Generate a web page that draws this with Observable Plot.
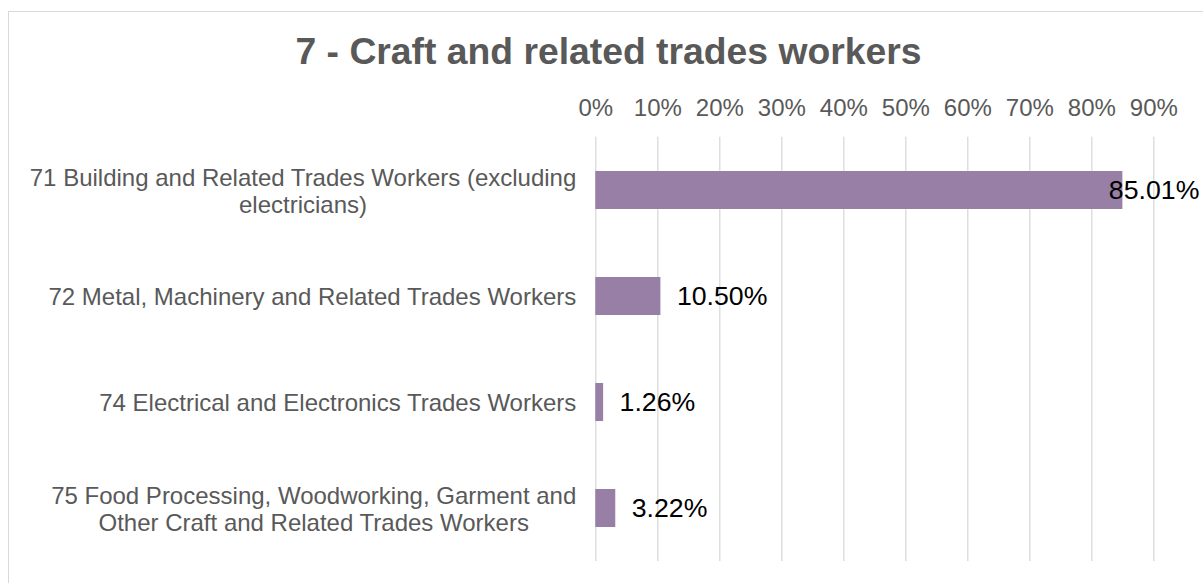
<!DOCTYPE html>
<html><head><meta charset="utf-8">
<script src="https://cdn.jsdelivr.net/npm/d3@7"></script>
<script src="https://cdn.jsdelivr.net/npm/@observablehq/plot@0.6"></script>
<style>
html,body{margin:0;padding:0;width:1203px;height:583px;overflow:hidden;background:#fff;font-family:"Liberation Sans",Arial,sans-serif;}
#chart{position:absolute;left:0;top:0;}
#frame{position:absolute;left:8px;top:11px;width:1400px;height:800px;border:1.5px solid #d9d9d9;box-sizing:border-box;}
#title{position:absolute;left:0;top:33px;width:1217px;text-align:center;font-size:37.3px;line-height:1;font-weight:bold;color:#595959;}
</style></head><body>
<div id="chart"></div>
<div id="frame"></div>
<div id="title">7 - Craft and related trades workers</div>
<script>
const categories = [
  "71 Building and Related Trades Workers (excluding\nelectricians)",
  "72 Metal, Machinery and Related Trades Workers",
  "74 Electrical and Electronics Trades Workers",
  "75 Food Processing, Woodworking, Garment and\nOther Craft and Related Trades Workers"
];
const values = [85.01, 10.50, 1.26, 3.22];
const xTicks = [0, 10, 20, 30, 40, 50, 60, 70, 80, 90];
const xMax = 90;

const data = categories.map((category, i) => ({category, value: values[i]}));
const barColor = "#977fa6";

const chart = Plot.plot({
  width: 1203,
  height: 583,
  marginLeft: 595.3,
  marginRight: 49.7,
  marginTop: 136.7,
  marginBottom: 22,
  style: {fontFamily: "'Liberation Sans', Arial, sans-serif", fontSize: "24px", color: "#595959", background: "transparent"},
  x: {domain: [0, xMax], axis: null, label: null},
  y: {domain: categories, paddingInner: 0.646, paddingOuter: 0.323, axis: null, label: null},
  marks: [
    Plot.gridX(xTicks, {stroke: "#d9d9d9", strokeOpacity: 1, strokeWidth: 1.3}),
    Plot.axisX({anchor: "top", ticks: xTicks, tickSize: 0, tickPadding: 21.7, tickFormat: d => d + "%", fontSize: 24, fill: "#595959", label: null}),
    Plot.barX(data, {x: "value", y: "category", fill: barColor}),
    Plot.text(categories, {y: d => d, frameAnchor: "left", dx: -19.5, textAnchor: "end", lineHeight: 1.15, fontSize: 24, fill: "#595959"}),
    Plot.text(data.filter(d => d.value <= 80), {x: "value", y: "category", text: d => d.value.toFixed(2) + "%", textAnchor: "start", dx: 16, fontSize: 26.7, fill: "#000"}),
    Plot.text(data.filter(d => d.value > 80), {x: "value", y: "category", text: d => d.value.toFixed(2) + "%", textAnchor: "start", dx: -14, fontSize: 26.7, fill: "#000"})
  ]
});
document.getElementById("chart").append(chart);

// Centre multi-line category labels as a block whose right edge sits at the axis
const textGroups = chart.querySelectorAll('g[aria-label="text"]');
if (textGroups.length) {
  textGroups[0].querySelectorAll("text").forEach(t => {
    t.setAttribute("text-anchor", "middle");
    const w = t.getBBox().width;
    const tr = t.getAttribute("transform") || "";
    t.setAttribute("transform", tr + ` translate(${-w / 2},0)`);
  });
}
</script>
</body></html>
